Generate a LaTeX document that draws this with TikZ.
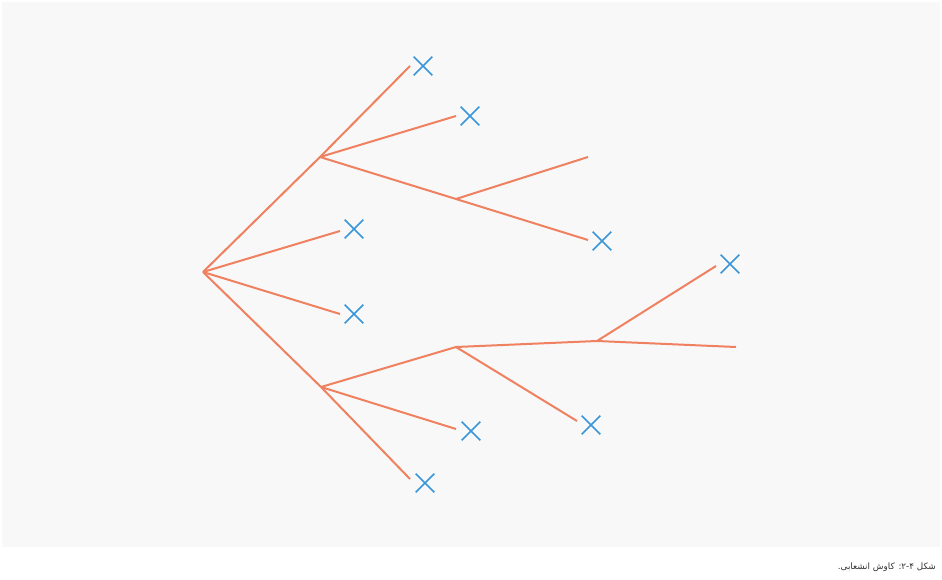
\documentclass[tikz,border=0pt]{standalone}
\usepackage{fontspec}
\newfontfamily\arabicfont[Script=Arabic]{DejaVu Sans}
\TeXXeTstate=1
\usetikzlibrary{shapes.misc}
\definecolor{bg}{HTML}{F8F8F8}
\definecolor{edgec}{HTML}{EF8160}
\definecolor{crossc}{HTML}{3A95D9}
\begin{document}
\begin{tikzpicture}[x=1pt,y=-1pt,
  br/.style={draw=edgec,line width=2pt},
  xmark/.style={cross out,draw=crossc,line width=1.7pt,minimum size=17pt,inner sep=0pt}]
\useasboundingbox (0,0) rectangle (942,580);
\fill[white] (0,0) rectangle (942,580);
\fill[bg] (2,2) rectangle (940,547);
% internal points
\coordinate (R) at (203,272);
\coordinate (A) at (320,157);
\coordinate (B) at (456,199);
\coordinate (C) at (321,387);
\coordinate (D) at (456,347);
\coordinate (E) at (597,341);
% leaf ends
\coordinate (l1) at (410,66);
\coordinate (l2) at (456,116);
\coordinate (l3) at (588,157);
\coordinate (l4) at (588,240);
\coordinate (l5) at (340,231);
\coordinate (l6) at (340,314);
\coordinate (l7) at (410,479);
\coordinate (l8) at (456,429);
\coordinate (l9) at (577,421);
\coordinate (l10) at (716,266);
\coordinate (l11) at (736,347);
% crosses
\node[xmark] (x1) at (423,66) {};
\node[xmark] (x2) at (470,116) {};
\node[xmark] (x4) at (602,241) {};
\node[xmark] (x5) at (354,229) {};
\node[xmark] (x6) at (354,314) {};
\node[xmark] (x7) at (425,483) {};
\node[xmark] (x8) at (471,431) {};
\node[xmark] (x9) at (591,425) {};
\node[xmark] (x10) at (730,264) {};
% branches
\draw[br] (R) -- (A) -- (l1);
\draw[br] (A) -- (l2);
\draw[br] (A) -- (B) -- (l4);
\draw[br] (B) -- (l3);
\draw[br] (R) -- (l5);
\draw[br] (R) -- (l6);
\draw[br] (R) -- (C) -- (l7);
\draw[br] (C) -- (l8);
\draw[br] (C) -- (D) -- (E) -- (l10);
\draw[br] (E) -- (l11);
\draw[br] (D) -- (l9);
% caption
\node[anchor=east,inner sep=0pt,font=\arabicfont\fontsize{8.8}{10}\selectfont,text=black!80] (cap) at (936,567) {\beginR شکل ۲-۴: کاوش انشعابی.\endR};
\end{tikzpicture}
\end{document}
